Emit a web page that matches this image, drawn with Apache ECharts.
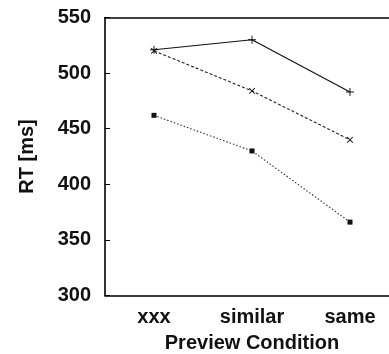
<!DOCTYPE html>
<html>
<head>
<meta charset="utf-8">
<script src="https://cdn.jsdelivr.net/npm/echarts@6/dist/echarts.min.js"></script>
<style>
    html, body { margin: 0; padding: 0; background: #fff; }
    #chart { width: 389px; height: 354px; }
</style>
</head>
<body>
<div id="chart"></div>
<script>
// 数据
var categories = ['xxx', 'similar', 'same'];
var solidValues = [521, 530, 483];
var dashedValues = [520, 484, 440];
var dottedValues = [462, 430, 366];
var yTicks = [300, 350, 400, 450, 500, 550];

var plusPath = 'path://M0,4.4H10V5.6H0Z M4.4,0H5.6V10H4.4Z';

var myChart = echarts.init(document.getElementById('chart'));

var axisFont = {
    color: '#111',
    fontFamily: 'Liberation Sans, Arial, sans-serif',
    fontWeight: 'bold',
    fontSize: 20
};

var option = {
    animation: false,
    grid: {
        left: 105,
        right: -10,
        top: 17.5,
        bottom: 58.5,
        outerBoundsMode: 'none'
    },
    xAxis: [{
        type: 'category',
        data: categories,
        boundaryGap: true,
        axisLine: { lineStyle: { color: '#000', width: 1.6 } },
        axisTick: { alignWithLabel: true, inside: true, length: 4, lineStyle: { color: '#000' } },
        axisLabel: Object.assign({ margin: 12 }, axisFont),
        name: 'Preview Condition',
        nameLocation: 'middle',
        nameGap: 38,
        nameTextStyle: axisFont
    }, {
        type: 'category',
        data: categories,
        position: 'top',
        boundaryGap: true,
        axisLine: { lineStyle: { color: '#000', width: 1.6 } },
        axisTick: { alignWithLabel: true, inside: true, length: 4, lineStyle: { color: '#000' } },
        axisLabel: { show: false }
    }],
    yAxis: {
        type: 'value',
        min: yTicks[0],
        max: yTicks[yTicks.length - 1],
        interval: 50,
        axisLine: { show: true, lineStyle: { color: '#000', width: 1.6 } },
        axisTick: { show: true, inside: true, length: 5, lineStyle: { color: '#000' } },
        splitLine: { show: false },
        axisLabel: Object.assign({}, axisFont, { margin: 14 }),
        name: 'RT [ms]',
        nameLocation: 'middle',
        nameGap: 68,
        nameTextStyle: axisFont
    },
    series: [{
        name: 'solid',
        type: 'line',
        data: solidValues,
        symbol: plusPath,
        symbolSize: 8,
        itemStyle: { color: '#111' },
        lineStyle: { color: '#111', width: 1.2, type: 'solid' }
    }, {
        name: 'dashed',
        type: 'line',
        data: dashedValues,
        symbol: plusPath,
        symbolSize: 8,
        symbolRotate: 45,
        itemStyle: { color: '#111' },
        lineStyle: { color: '#222', width: 1.1, type: [3, 2] }
    }, {
        name: 'dotted',
        type: 'line',
        data: dottedValues,
        symbol: 'rect',
        symbolSize: 5,
        itemStyle: { color: '#111' },
        lineStyle: { color: '#333', width: 1.1, type: [1.5, 2] }
    }]
};

myChart.setOption(option);
</script>
</body>
</html>
